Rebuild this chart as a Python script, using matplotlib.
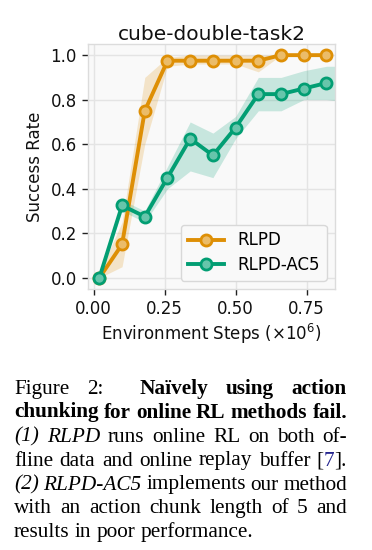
import matplotlib
matplotlib.use('Agg')
import matplotlib.pyplot as plt

# ---------------- data ----------------
steps = [0.02, 0.10, 0.18, 0.26, 0.34, 0.42, 0.50, 0.58, 0.66, 0.74, 0.82]
band_steps = steps + [0.90]

rlpd = [0.0, 0.15, 0.75, 0.975, 0.975, 0.975, 0.975, 0.975, 1.0, 1.0, 1.0]
rlpd_lo = [0.0, 0.05, 0.60, 0.95, 0.96, 0.96, 0.96, 0.925, 1.0, 1.0, 1.0, 1.0]
rlpd_hi = [0.025, 0.25, 0.90, 0.99, 1.0, 1.0, 1.0, 1.0, 1.0, 1.0, 1.0, 1.0]

ac5 = [0.0, 0.325, 0.275, 0.45, 0.625, 0.55, 0.675, 0.825, 0.825, 0.85, 0.875]
ac5_lo = [0.0, 0.30, 0.25, 0.40, 0.48, 0.45, 0.625, 0.75, 0.75, 0.80, 0.80, 0.79]
ac5_hi = [0.0, 0.35, 0.30, 0.50, 0.70, 0.65, 0.725, 0.90, 0.90, 0.93, 0.95, 0.95]

series_names = ['RLPD', 'RLPD-AC5']
title = 'cube-double-task2'
xlabel = r'Environment Steps ($\times10^6$)'
ylabel = 'Success Rate'
xticks = [0.0, 0.25, 0.50, 0.75]
xticklabels = ['0.00', '0.25', '0.50', '0.75']
yticks = [0.0, 0.2, 0.4, 0.6, 0.8, 1.0]
yticklabels = ['0.0', '0.2', '0.4', '0.6', '0.8', '1.0']

# caption: lines -> words -> segments (text, style); style n/b/i/c(cite)
caption = [
    [[("Figure", "n")], [("2:", "n")], [("Naïvely", "b")], [("using", "b")], [("action", "b")]],
    [[("chunking", "b")], [("for", "b")], [("online", "b")], [("RL", "b")], [("methods", "b")], [("fail.", "b")]],
    [[("(1)", "i")], [("RLPD", "i")], [("runs", "n")], [("online", "n")], [("RL", "n")], [("on", "n")], [("both", "n")], [("of-", "n")]],
    [[("fline", "n")], [("data", "n")], [("and", "n")], [("online", "n")], [("replay", "n")], [("buffer", "n")], [("[", "n"), ("7", "c"), ("].", "n")]],
    [[("(2)", "i")], [("RLPD-AC5", "i")], [("implements", "n")], [("our", "n")], [("method", "n")]],
    [[("with", "n")], [("an", "n")], [("action", "n")], [("chunk", "n")], [("length", "n")], [("of", "n")], [("5", "n")], [("and", "n")]],
    [[("results", "n")], [("in", "n")], [("poor", "n")], [("performance.", "n")]],
]

# ---------------- style ----------------
W, H = 372, 550
orange = '#de8f05'
green = '#029e73'

def lighten(c, f=0.6):
    c = c.lstrip('#')
    r, g, b = (int(c[i:i + 2], 16) for i in (0, 2, 4))
    mix = lambda v: int(round(f * v + (1 - f) * 255))
    return '#%02x%02x%02x' % (mix(r), mix(g), mix(b))

fig = plt.figure(figsize=(W / 100, H / 100), dpi=100)
fig.patch.set_facecolor('white')
ax = fig.add_axes([88 / W, 1 - 289 / H, 247 / W, 245 / H])
ax.set_facecolor('#f9f9f9')

for lo, hi, c in [(rlpd_lo, rlpd_hi, orange), (ac5_lo, ac5_hi, green)]:
    ax.fill_between(band_steps, lo, hi, color=c, alpha=0.2, lw=0, zorder=2)

for ys, c, name in [(rlpd, orange, series_names[0]), (ac5, green, series_names[1])]:
    ax.plot(steps, ys, color=c, lw=2.8, marker='o', ms=8, mfc=lighten(c), mec=c,
            mew=2.0, label=name, zorder=3)

ax.set_xlim(-0.02, 0.85)
ax.set_ylim(-0.05, 1.05)
ax.set_xticks(xticks)
ax.set_xticklabels(xticklabels)
ax.set_yticks(yticks)
ax.set_yticklabels(yticklabels)
ax.grid(True, color='#e4e4e4', lw=1.0, zorder=0)
ax.set_axisbelow(True)
for s in ax.spines.values():
    s.set_color('#dcdcdc')
    s.set_linewidth(1.0)
ax.tick_params(axis='both', length=4, width=1, color='#222222', labelsize=12,
               labelcolor='#111111', pad=4)
ax.set_title(title, fontsize=14.5, pad=2, color='#111111')
ax.set_xlabel(xlabel, fontsize=12, color='#111111', labelpad=3)
ax.set_ylabel(ylabel, fontsize=12, color='#111111', labelpad=5)
leg = ax.legend(loc='lower right', fontsize=12, frameon=True, fancybox=True,
                handlelength=2.2, borderpad=0.4, labelspacing=0.4)
leg.get_frame().set_facecolor('#f9f9f9')
leg.get_frame().set_edgecolor('#d8d8d8')
leg.get_frame().set_alpha(1.0)

# ---------------- caption (justified) ----------------
cap_font = 'Liberation Serif'
cap_size = 15.3
left_px, right_px = 14, 347
baselines = [394, 417.5, 441.5, 465.5, 489.5, 513, 537]
renderer = fig.canvas.get_renderer()

def seg_props(style):
    p = dict(fontfamily=cap_font, fontsize=cap_size, color='black', va='baseline', ha='left')
    if style == 'b':
        p['fontweight'] = 'bold'
    elif style == 'i':
        p['fontstyle'] = 'italic'
    elif style == 'c':
        p['color'] = '#23238e'
    return p

def measure(txt, style):
    t = fig.text(0, 0, txt, **seg_props(style))
    w = t.get_window_extent(renderer).width
    t.remove()
    return w

space_w = measure('a a', 'n') - measure('aa', 'n')

for li, line in enumerate(caption):
    widths = [sum(measure(t, s) for t, s in word) for word in line]
    last = li == len(caption) - 1
    weights = [1.0] * (len(line) - 1)
    if li == 0:
        weights[1] = 2.0
    if last:
        gap_unit = space_w
    else:
        gap_unit = (right_px - left_px - sum(widths)) / sum(weights)
    x = left_px
    y = 1 - baselines[li] / H
    for wi, word in enumerate(line):
        xx = x
        for t, s in word:
            fig.text(xx / W, y, t, **seg_props(s))
            xx += measure(t, s)
        x += widths[wi]
        if wi < len(weights):
            x += gap_unit * weights[wi]

fig.savefig('out.png', dpi=100, facecolor='white')
